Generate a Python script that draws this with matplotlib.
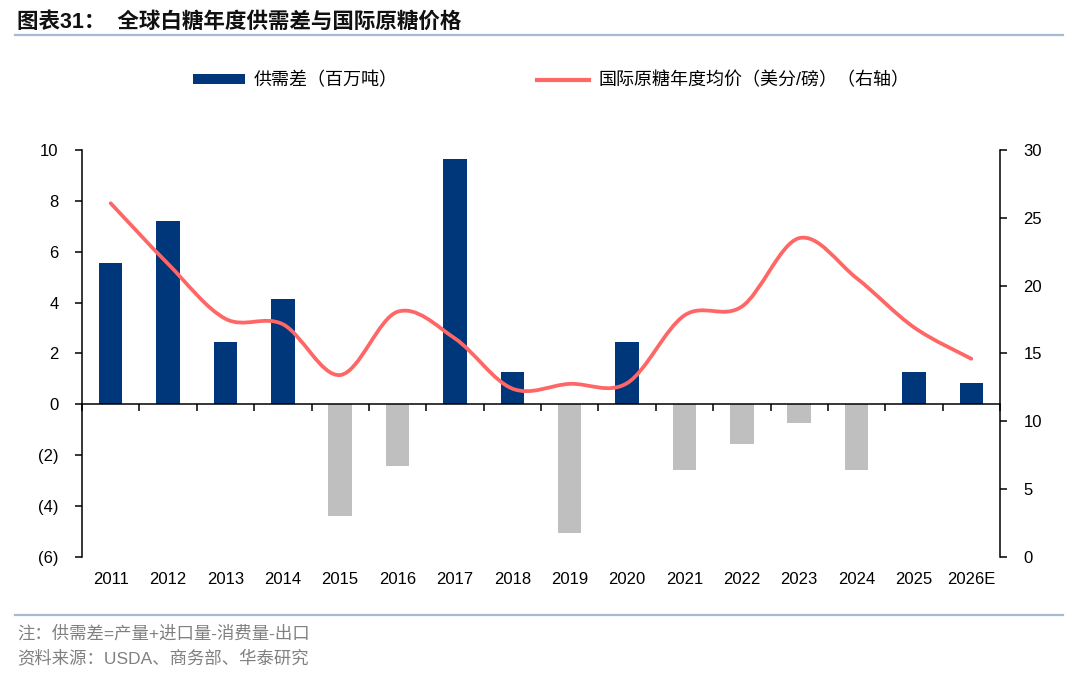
import numpy as np
import matplotlib
matplotlib.use("Agg")
import matplotlib.pyplot as plt
from matplotlib.path import Path
from matplotlib.patches import PathPatch, Patch
from matplotlib.lines import Line2D
from matplotlib.ticker import FuncFormatter
import matplotlib.transforms as mtransforms

plt.rcParams['font.family'] = ['Liberation Sans', 'Noto Sans CJK SC']

# data
years = ['2011', '2012', '2013', '2014', '2015', '2016', '2017', '2018',
         '2019', '2020', '2021', '2022', '2023', '2024', '2025', '2026E']
gap = [5.56, 7.22, 2.44, 4.15, -4.4, -2.44, 9.63, 1.25,
       -5.05, 2.44, -2.57, -1.55, -0.75, -2.6, 1.25, 0.85]
price = [26.07, 21.6, 17.55, 17.15, 13.4, 18.07, 16.1, 12.4,
         12.75, 12.8, 17.8, 18.45, 23.5, 20.55, 16.92, 14.6]

navy = '#00377a'
grey = '#bfbfbf'
red = '#ff6666'
rule = '#a7bad3'

fig = plt.figure(figsize=(10.8, 6.74), dpi=100)
ax = fig.add_axes([82/1080, 1-556.7/674, (1000-82)/1080, (556.7-150)/674])
ax2 = ax.twinx()

x = np.arange(len(years))
cols = [navy if v >= 0 else grey for v in gap]
ax.bar(x, gap, width=0.41, color=cols, zorder=1)

ax.set_xlim(-0.5, len(years)-0.5)
ax.set_ylim(-6, 10)
ax.set_yticks(np.arange(-6, 11, 2))
ax.yaxis.set_major_formatter(FuncFormatter(
    lambda v, p: '(%d)' % abs(v) if v < 0 else '%d' % v))
ax.set_xticks(np.arange(-0.5, len(years), 1))
ax.tick_params(axis='x', direction='out', length=5, width=1.1, labelbottom=False)
ax.tick_params(axis='y', direction='out', length=5, width=1.1, pad=12, labelsize=12)
for s in ['top', 'right']:
    ax.spines[s].set_visible(False)
ax.spines['bottom'].set_position(('data', 0))
ax.spines['left'].set_linewidth(1.1)
ax.spines['bottom'].set_linewidth(1.1)

trans = mtransforms.blended_transform_factory(ax.transData, ax.transAxes)
for i, yr in enumerate(years):
    ax.text(i, -0.057, yr, transform=trans, ha='center', va='center', fontsize=12)

# smoothed price line (Excel style bezier through the points)
pts = np.column_stack([x, price]).astype(float)
n = len(pts)
verts = [tuple(pts[0])]
codes = [Path.MOVETO]
for i in range(n-1):
    p0 = pts[max(i-1, 0)]
    p1 = pts[i]
    p2 = pts[i+1]
    p3 = pts[min(i+2, n-1)]
    c1 = p1 + (p2 - p0) / 6
    c2 = p2 - (p3 - p1) / 6
    verts += [tuple(c1), tuple(c2), tuple(p2)]
    codes += [Path.CURVE4] * 3
ax2.add_patch(PathPatch(Path(verts, codes), facecolor='none', edgecolor=red,
                        lw=2.7, capstyle='round', zorder=3))
ax2.set_ylim(0, 30)
ax2.set_yticks(np.arange(0, 31, 5))
ax2.tick_params(axis='y', direction='out', length=5, width=1.1, pad=12, labelsize=12)
for s in ['top', 'left', 'bottom']:
    ax2.spines[s].set_visible(False)
ax2.spines['right'].set_linewidth(1.1)

handles = [Patch(facecolor=navy, edgecolor='none'),
           Line2D([0], [0], color=red, lw=3)]
labels = ['供需差（百万吨）', '国际原糖年度均价（美分/磅）（右轴）']
fig.legend(handles, labels, loc='center', bbox_to_anchor=(551/1080, 1-81/674),
           ncol=2, frameon=False, fontsize=13, handlelength=2.9,
           handleheight=0.45, handletextpad=0.5, columnspacing=7.7)

# title, rules and notes
fig.text(17/1080, 1-22/674, '图表31：  全球白糖年度供需差与国际原糖价格',
         fontsize=15.5, fontweight='bold', va='center', ha='left', color='#111111')
fig.add_artist(Line2D([15/1080, 1063/1080], [1-35/674, 1-35/674], color=rule, lw=1.6))
fig.add_artist(Line2D([15/1080, 1063/1080], [1-615/674, 1-615/674], color=rule, lw=1.6))
fig.text(17/1080, 1-633/674, '注：供需差=产量+进口量-消费量-出口',
         fontsize=12.5, color='#808080', va='center', ha='left')
fig.text(17/1080, 1-658/674, '资料来源：USDA、商务部、华泰研究',
         fontsize=12.5, color='#808080', va='center', ha='left')

fig.savefig('out.png', dpi=100)
